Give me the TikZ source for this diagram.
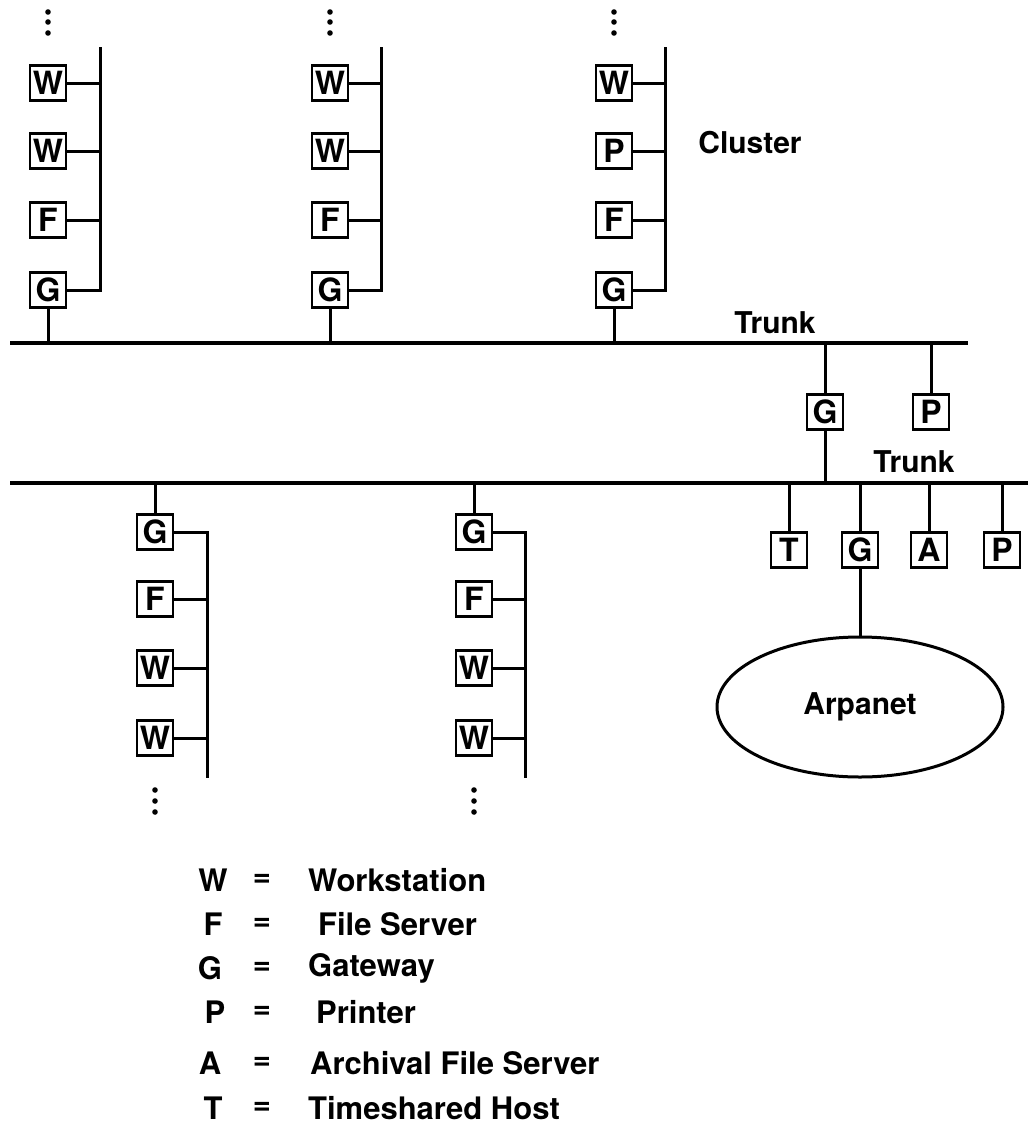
\documentclass[tikz,border=0pt]{standalone}
\usepackage{fontspec}
\setmainfont{TeX Gyre Heros}
\usetikzlibrary{shapes.geometric}

\tikzset{
  box/.style={draw,line width=1.4pt,minimum width=18pt,minimum height=17.5pt,inner sep=0pt,font=\fontsize{16}{16}\selectfont\bfseries},
  lbl/.style={font=\fontsize{15}{15}\selectfont\bfseries},
  key/.style={font=\fontsize{15.5}{15.5}\selectfont\bfseries},
  trunkline/.style={line width=2pt},
}

\begin{document}
\begin{tikzpicture}[x=0.5pt,y=-0.5pt,line width=1.5pt]
  \useasboundingbox (0,0) rectangle (1028,1124);
  % trunks
  \coordinate (t1a) at (10,343); \coordinate (t1b) at (968,343);
  \coordinate (t2a) at (10,483); \coordinate (t2b) at (1028,483);
  \draw[trunkline] (t1a) -- (t1b);
  \draw[trunkline] (t2a) -- (t2b);
  \node[lbl] (trunk1) at (775,323) {Trunk};
  \node[lbl] (trunk2) at (914,462) {Trunk};
  \node[lbl] (cluster) at (750,143) {Cluster};

  % cluster 1 (top)
  \coordinate (busA) at (100,47);
  \node[box] (wA1) at (48,83) {W}; \node[box] (wA2) at (48,151) {W};
  \node[box] (fA) at (48,220) {F}; \node[box] (gA) at (48,290) {G};
  \draw (gA.east) -| (busA);
  \draw (wA1.east) -- (wA1.east -| busA); \draw (wA2.east) -- (wA2.east -| busA); \draw (fA.east) -- (fA.east -| busA);
  \draw (gA.south) -- (gA.south |- t1a);
  \fill (48,12) circle (2.8) (48,22) circle (2.8) (48,33) circle (2.8);

  % cluster 2 (top)
  \coordinate (busB) at (381,47);
  \node[box] (wB1) at (330,83) {W}; \node[box] (wB2) at (330,151) {W};
  \node[box] (fB) at (330,220) {F}; \node[box] (gB) at (330,290) {G};
  \draw (gB.east) -| (busB);
  \draw (wB1.east) -- (wB1.east -| busB); \draw (wB2.east) -- (wB2.east -| busB); \draw (fB.east) -- (fB.east -| busB);
  \draw (gB.south) -- (gB.south |- t1a);
  \fill (330,12) circle (2.8) (330,22) circle (2.8) (330,33) circle (2.8);

  % cluster 3 (top)
  \coordinate (busC) at (665,47);
  \node[box] (wC) at (614,83) {W}; \node[box] (pC) at (614,151) {P};
  \node[box] (fC) at (614,220) {F}; \node[box] (gC) at (614,290) {G};
  \draw (gC.east) -| (busC);
  \draw (wC.east) -- (wC.east -| busC); \draw (pC.east) -- (pC.east -| busC); \draw (fC.east) -- (fC.east -| busC);
  \draw (gC.south) -- (gC.south |- t1a);
  \fill (614,12) circle (2.8) (614,22) circle (2.8) (614,33) circle (2.8);

  % between trunks
  \node[box] (gM) at (825,412) {G}; \node[box] (pM) at (931,412) {P};
  \draw (gM.north) -- (gM.north |- t1a); \draw (gM.south) -- (gM.south |- t2a);
  \draw (pM.north) -- (pM.north |- t1a);

  % on lower trunk
  \node[box] (tL) at (789,550) {T}; \node[box] (gL) at (860,550) {G};
  \node[box] (aL) at (929,550) {A}; \node[box] (pL) at (1002,550) {P};
  \foreach \n in {tL,gL,aL,pL} \draw (\n.north) -- (\n.north |- t2a);
  \node[draw,ellipse,line width=1.5pt,minimum width=143pt,minimum height=70pt,lbl] (arpa) at (860,707) {Arpanet};
  \draw (gL.south) -- (arpa.north);

  % cluster 4 (bottom)
  \coordinate (busD) at (207,778);
  \node[box] (gD) at (155,532) {G}; \node[box] (fD) at (155,599) {F};
  \node[box] (wD1) at (155,668) {W}; \node[box] (wD2) at (155,738) {W};
  \draw (gD.east) -| (busD);
  \draw (fD.east) -- (fD.east -| busD); \draw (wD1.east) -- (wD1.east -| busD); \draw (wD2.east) -- (wD2.east -| busD);
  \draw (gD.north) -- (gD.north |- t2a);
  \fill (155,790) circle (2.8) (155,801) circle (2.8) (155,812) circle (2.8);

  % cluster 5 (bottom)
  \coordinate (busE) at (525,778);
  \node[box] (gE) at (474,532) {G}; \node[box] (fE) at (474,599) {F};
  \node[box] (wE1) at (474,668) {W}; \node[box] (wE2) at (474,738) {W};
  \draw (gE.east) -| (busE);
  \draw (fE.east) -- (fE.east -| busE); \draw (wE1.east) -- (wE1.east -| busE); \draw (wE2.east) -- (wE2.east -| busE);
  \draw (gE.north) -- (gE.north |- t2a);
  \fill (474,790) circle (2.8) (474,801) circle (2.8) (474,812) circle (2.8);

  % legend
  \node[key] (kW) at (213,880) {W}; \node[key] (eW) at (262,880) {=}; \node[key,anchor=west] (dW) at (300,880) {Workstation};
  \node[key] (kF) at (213,924) {F}; \node[key] (eF) at (262,924) {=}; \node[key,anchor=west] (dF) at (310,924) {File Server};
  \node[key] (kG) at (210,968) {G}; \node[key] (eG) at (262,968) {=}; \node[key,anchor=west] (dG) at (300,968) {Gateway};
  \node[key] (kP) at (215,1012) {P}; \node[key] (eP) at (262,1012) {=}; \node[key,anchor=west] (dP) at (308,1012) {Printer};
  \node[key] (kA) at (210,1063) {A}; \node[key] (eA) at (262,1063) {=}; \node[key,anchor=west] (dA) at (302,1063) {Archival File Server};
  \node[key] (kT) at (213,1108) {T}; \node[key] (eT) at (262,1108) {=}; \node[key,anchor=west] (dT) at (300,1108) {Timeshared Host};
\end{tikzpicture}
\end{document}
